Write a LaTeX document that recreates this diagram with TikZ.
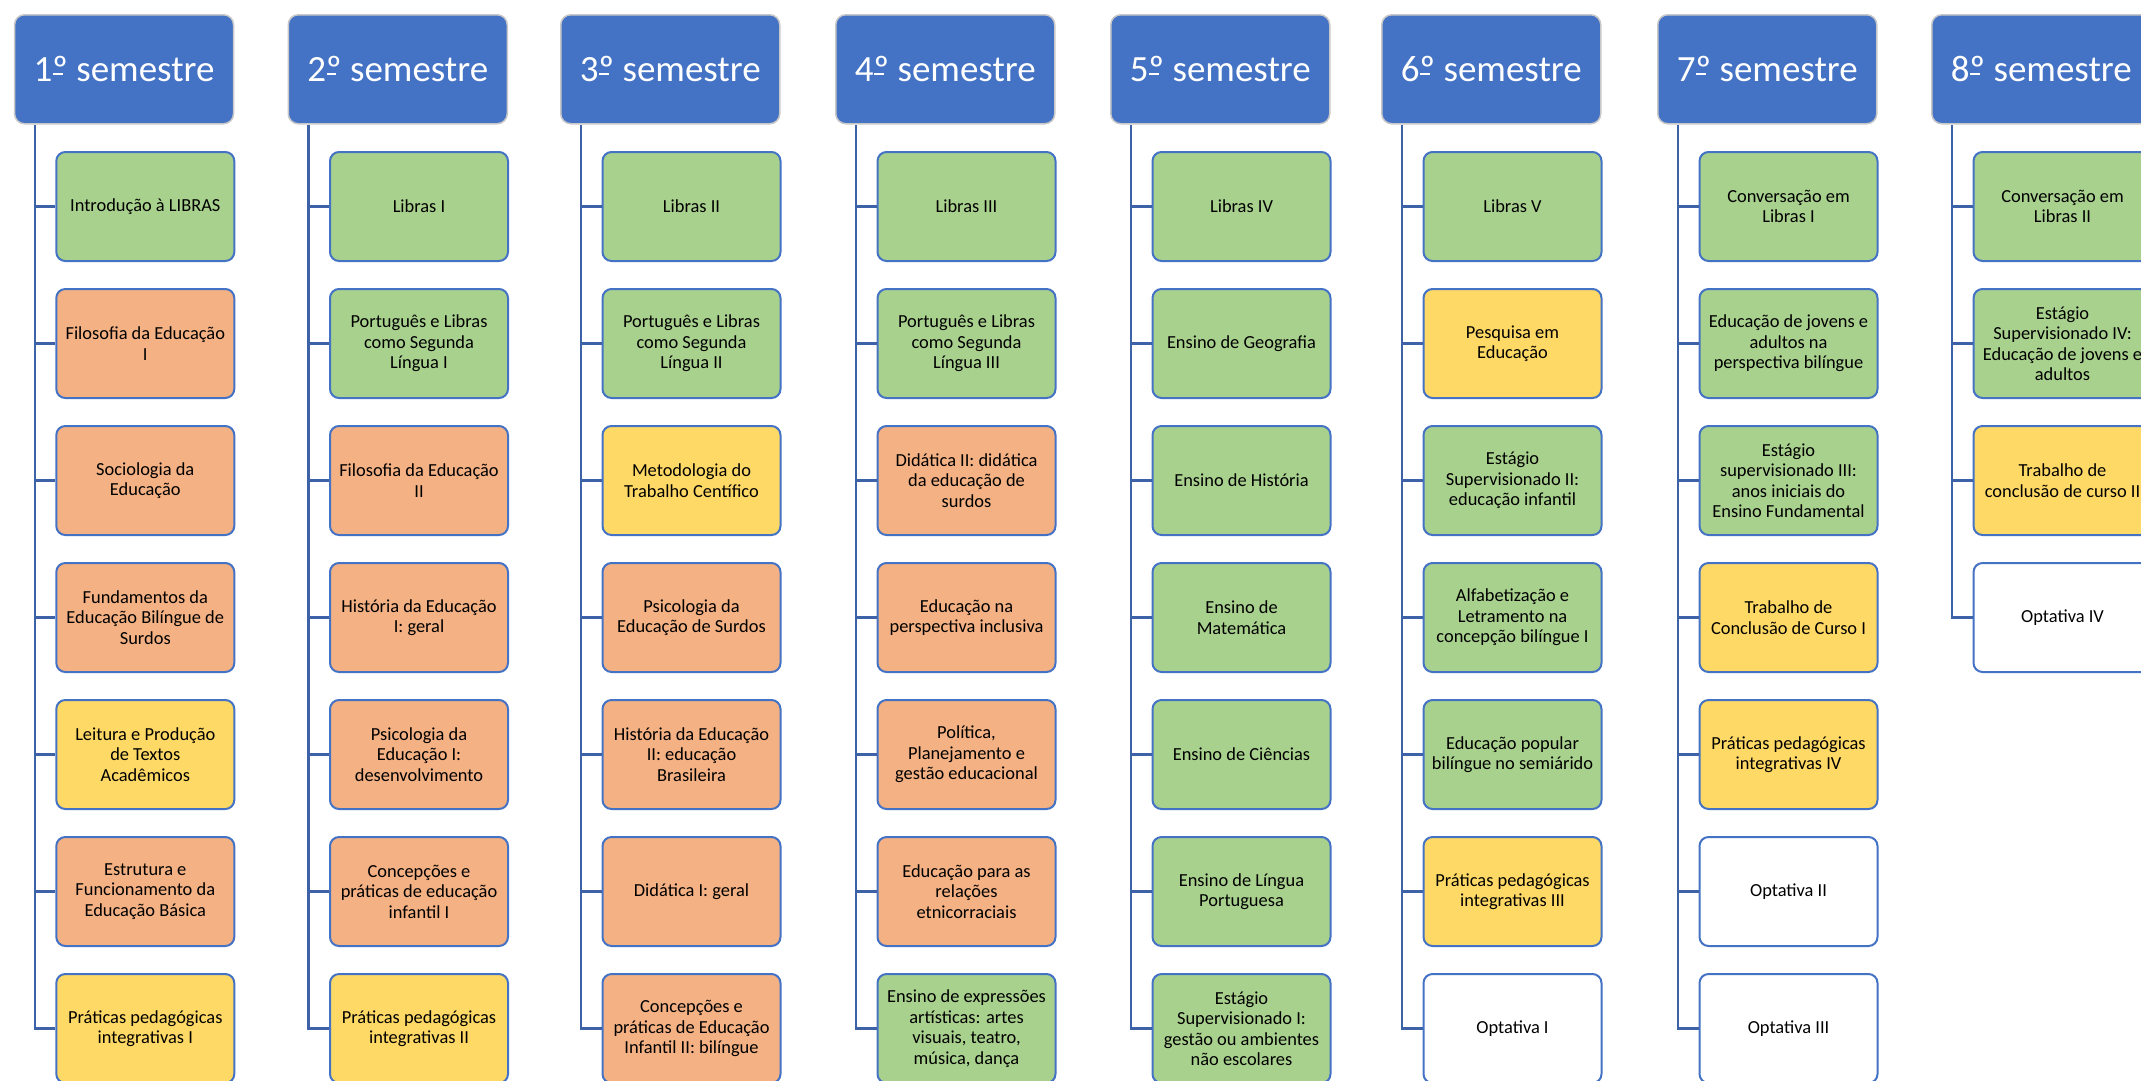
\documentclass[tikz,border=0pt]{standalone}
\usepackage{fontspec}
\setmainfont{Carlito}
\definecolor{hdrblue}{HTML}{4472C4}
\definecolor{hdrborder}{HTML}{C8C8C8}
\definecolor{boxblue}{HTML}{4472C4}
\definecolor{linkblue}{HTML}{3E62A8}
\definecolor{cgreen}{HTML}{A9D18E}
\definecolor{corange}{HTML}{F4B183}
\definecolor{cyellow}{HTML}{FFD966}
\newcommand\ordm{\rlap{\kern0.8pt\rule[7pt]{9.5pt}{2.2pt}}º}
\begin{document}
\begin{tikzpicture}[x=1pt,y=-1pt,
  hdr/.style={draw=hdrborder, line width=1.5pt, fill=hdrblue, rounded corners=10pt,
    minimum width=219pt, minimum height=109pt, text=white, inner sep=0pt,
    font=\fontsize{37}{40}\selectfont, anchor=north west},
  crs/.style={draw=boxblue, line width=2pt, rounded corners=9pt,
    minimum width=178pt, minimum height=109pt, inner sep=0pt, align=center,
    font=\fontsize{18.4}{20.5}\selectfont, anchor=north west},
  grn/.style={crs, fill=cgreen},
  org/.style={crs, fill=corange},
  ylw/.style={crs, fill=cyellow},
  wht/.style={crs, fill=white},
  link/.style={draw=linkblue, line width=2.5pt}]
\clip (0,0) rectangle (2141,1080);
\fill[white] (0,0) rectangle (2141,1080);

% ---------- 1st semester
\node[hdr] (h1) at (13.8,14) {1\ordm{} semestre};
\node[grn] (c11) at (55.3,151) {Introdução à LIBRAS};
\node[org] (c12) at (55.3,288) {Filosofia da Educação\\I};
\node[org] (c13) at (55.3,425) {Sociologia da\\Educação};
\node[org] (c14) at (55.3,562) {Fundamentos da\\Educação Bilíngue de\\Surdos};
\node[ylw] (c15) at (55.3,699) {Leitura e Produção\\de Textos\\Acadêmicos};
\node[org] (c16) at (55.3,836) {Estrutura e\\Funcionamento da\\Educação Básica};
\node[ylw] (c17) at (55.3,973) {Práticas pedagógicas\\integrativas I};

% ---------- 2nd semester
\node[hdr] (h2) at (287.5,14) {2\ordm{} semestre};
\node[grn] (c21) at (329,151) {Libras I};
\node[grn] (c22) at (329,288) {Português e Libras\\como Segunda\\Língua I};
\node[org] (c23) at (329,425) {Filosofia da Educação\\II};
\node[org] (c24) at (329,562) {História da Educação\\I: geral};
\node[org] (c25) at (329,699) {Psicologia da\\Educação I:\\desenvolvimento};
\node[org] (c26) at (329,836) {Concepções e\\práticas de educação\\infantil I};
\node[ylw] (c27) at (329,973) {Práticas pedagógicas\\integrativas II};

% ---------- 3rd semester
\node[hdr] (h3) at (560,14) {3\ordm{} semestre};
\node[grn] (c31) at (601.5,151) {Libras II};
\node[grn] (c32) at (601.5,288) {Português e Libras\\como Segunda\\Língua II};
\node[ylw] (c33) at (601.5,425) {Metodologia do\\Trabalho Centífico};
\node[org] (c34) at (601.5,562) {Psicologia da\\Educação de Surdos};
\node[org] (c35) at (601.5,699) {História da Educação\\II: educação\\Brasileira};
\node[org] (c36) at (601.5,836) {Didática I: geral};
\node[org] (c37) at (601.5,973) {Concepções e\\práticas de Educação\\Infantil II: bilíngue};

% ---------- 4th semester
\node[hdr] (h4) at (835,14) {4\ordm{} semestre};
\node[grn] (c41) at (876.5,151) {Libras III};
\node[grn] (c42) at (876.5,288) {Português e Libras\\como Segunda\\Língua III};
\node[org] (c43) at (876.5,425) {Didática II: didática\\da educação de\\surdos};
\node[org] (c44) at (876.5,562) {Educação na\\perspectiva inclusiva};
\node[org] (c45) at (876.5,699) {Política,\\Planejamento e\\gestão educacional};
\node[org] (c46) at (876.5,836) {Educação para as\\relações\\etnicorraciais};
\node[grn] (c47) at (876.5,973) {Ensino de expressões\\artísticas: artes\\visuais, teatro,\\música, dança};

% ---------- 5th semester
\node[hdr] (h5) at (1110,14) {5\ordm{} semestre};
\node[grn] (c51) at (1151.5,151) {Libras IV};
\node[grn] (c52) at (1151.5,288) {Ensino de Geografia};
\node[grn] (c53) at (1151.5,425) {Ensino de História};
\node[grn] (c54) at (1151.5,562) {Ensino de\\Matemática};
\node[grn] (c55) at (1151.5,699) {Ensino de Ciências};
\node[grn] (c56) at (1151.5,836) {Ensino de Língua\\Portuguesa};
\node[grn] (c57) at (1151.5,973) {Estágio\\Supervisionado I:\\gestão ou ambientes\\não escolares};

% ---------- 6th semester
\node[hdr] (h6) at (1381,14) {6\ordm{} semestre};
\node[grn] (c61) at (1422.5,151) {Libras V};
\node[ylw] (c62) at (1422.5,288) {Pesquisa em\\Educação};
\node[grn] (c63) at (1422.5,425) {Estágio\\Supervisionado II:\\educação infantil};
\node[grn] (c64) at (1422.5,562) {Alfabetização e\\Letramento na\\concepção bilíngue I};
\node[grn] (c65) at (1422.5,699) {Educação popular\\bilíngue no semiárido};
\node[ylw] (c66) at (1422.5,836) {Práticas pedagógicas\\integrativas III};
\node[wht] (c67) at (1422.5,973) {Optativa I};

% ---------- 7th semester
\node[hdr] (h7) at (1657,14) {7\ordm{} semestre};
\node[grn] (c71) at (1698.5,151) {Conversação em\\Libras I};
\node[grn] (c72) at (1698.5,288) {Educação de jovens e\\adultos na\\perspectiva bilíngue};
\node[grn] (c73) at (1698.5,425) {Estágio\\supervisionado III:\\anos iniciais do\\Ensino Fundamental};
\node[ylw] (c74) at (1698.5,562) {Trabalho de\\Conclusão de Curso I};
\node[ylw] (c75) at (1698.5,699) {Práticas pedagógicas\\integrativas IV};
\node[wht] (c76) at (1698.5,836) {Optativa II};
\node[wht] (c77) at (1698.5,973) {Optativa III};

% ---------- 8th semester
\node[hdr] (h8) at (1931,14) {8\ordm{} semestre};
\node[grn] (c81) at (1972.5,151) {Conversação em\\Libras II};
\node[grn] (c82) at (1972.5,288) {Estágio\\Supervisionado IV:\\Educação de jovens e\\adultos};
\node[ylw] (c83) at (1972.5,425) {Trabalho de\\conclusão de curso II};
\node[wht] (c84) at (1972.5,562) {Optativa IV};

% ---------- connectors
\foreach \c/\last in {1/7,2/7,3/7,4/7,5/7,6/7,7/7,8/4}{
  \coordinate (t\c) at ([xshift=21pt]h\c.south west);
  \draw[link] (t\c) |- (c\c\last.west);
  \foreach \k in {1,...,\last}{
    \draw[link] (c\c\k.west) -- (c\c\k.west -| t\c);
  }
}
\end{tikzpicture}
\end{document}
